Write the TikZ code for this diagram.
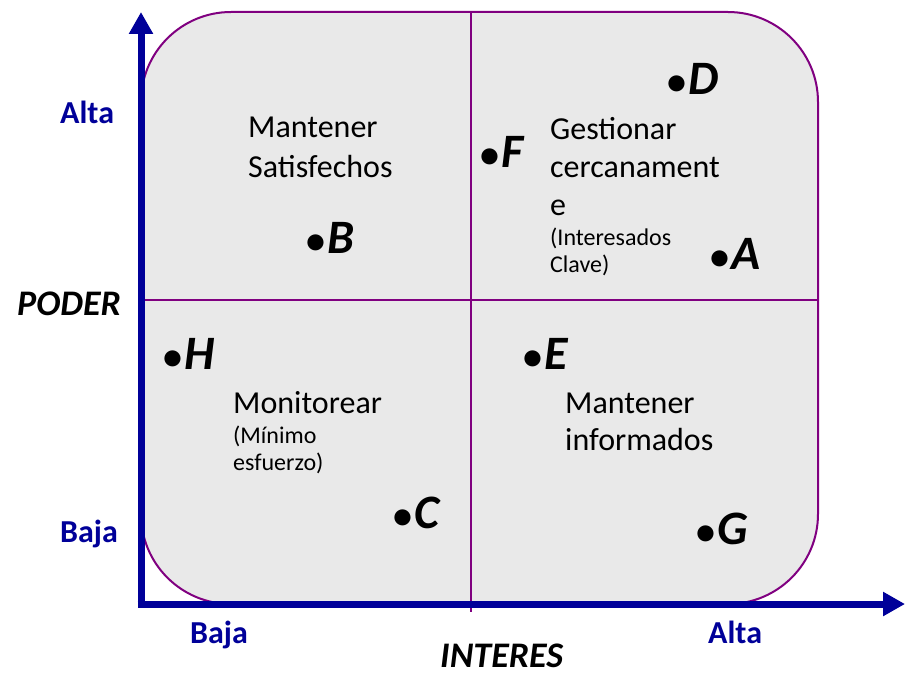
\documentclass[tikz,border=0pt]{standalone}
\usepackage{fontspec}
\setmainfont{Carlito}
\usetikzlibrary{arrows.meta}
\definecolor{axblue}{RGB}{0,0,153}
\definecolor{boxpurple}{RGB}{128,0,128}
\definecolor{boxfill}{RGB}{233,233,233}
\newcommand{\ptlabel}[1]{{\fontsize{38}{38}\selectfont\bfseries •}\hspace{2pt}{\fontsize{48}{48}\selectfont\bfseries\itshape #1}}
\tikzset{
  big/.style={font=\fontsize{32}{38}\selectfont, anchor=base west, inner sep=0pt},
  small/.style={font=\fontsize{24}{28}\selectfont, anchor=base west, inner sep=0pt},
  pnt/.style={anchor=base west, inner sep=0pt},
  axlab/.style={font=\fontsize{32}{32}\selectfont\bfseries, text=axblue, anchor=base west, inner sep=0pt},
  axtitle/.style={font=\fontsize{36}{36}\selectfont\bfseries\itshape, anchor=base west, inner sep=0pt},
  axisline/.style={draw=axblue, line width=7pt, -{Triangle[width=23pt,length=22pt]}},
  divider/.style={draw=boxpurple, line width=1.5pt}
}
\begin{document}
\begin{tikzpicture}[x=1pt,y=-1pt]
\useasboundingbox (0,0) rectangle (910,685);
% box
\draw[fill=boxfill, draw=boxpurple, line width=2pt, rounded corners=90pt] (141,12) rectangle (818,604);
% dividers
\coordinate (vtop) at (471,12);
\coordinate (vbot) at (471,612);
\coordinate (hleft) at (141,300);
\coordinate (hright) at (818,300);
\draw[divider] (vtop) -- (vbot);
\draw[divider] (hleft) -- (hright);
% axes
\coordinate (O) at (141,604);
\coordinate (Ytip) at (141,12);
\coordinate (Xtip) at (905,604);
\coordinate (Ocorner) at (137.5,604);
\draw[axisline] (O) -- (Ytip);
\draw[axisline] (Ocorner) -- (Xtip);
% axis labels
\node[axlab] (altaY) at (60,123) {Alta};
\node[axlab] (bajaY) at (60,542) {Baja};
\node[axlab] (bajaX) at (190,643) {Baja};
\node[axlab] (altaX) at (708,643) {Alta};
\node[axtitle] (poder) at (17,315) {PODER};
\node[axtitle] (interes) at (440,667) {INTERES};
% quadrant texts
\node[big] (q1a) at (248,137) {Mantener};
\node[big] (q1b) at (248,177) {Satisfechos};
\node[big] (q2a) at (550,139) {Gestionar};
\node[big] (q2b) at (550,177) {cercanament};
\node[big] (q2c) at (550,215) {e};
\node[small] (q2d) at (550,245) {(Interesados};
\node[small] (q2e) at (550,272) {Clave)};
\node[big] (q3a) at (233,413) {Monitorear};
\node[small] (q3b) at (233,443) {(Mínimo};
\node[small] (q3c) at (233,470) {esfuerzo)};
\node[big] (q4a) at (565,413) {Mantener};
\node[big] (q4b) at (565,450) {informados};
% points
\node[pnt] (D) at (667,94) {\ptlabel{D}};
\node[pnt] (F) at (480,167) {\ptlabel{F}};
\node[pnt] (B) at (306,253) {\ptlabel{B}};
\node[pnt] (A) at (710,269) {\ptlabel{A}};
\node[pnt] (H) at (163,369) {\ptlabel{H}};
\node[pnt] (E) at (523,369) {\ptlabel{E}};
\node[pnt] (C) at (393,528) {\ptlabel{C}};
\node[pnt] (G) at (696,544) {\ptlabel{G}};
\end{tikzpicture}
\end{document}
